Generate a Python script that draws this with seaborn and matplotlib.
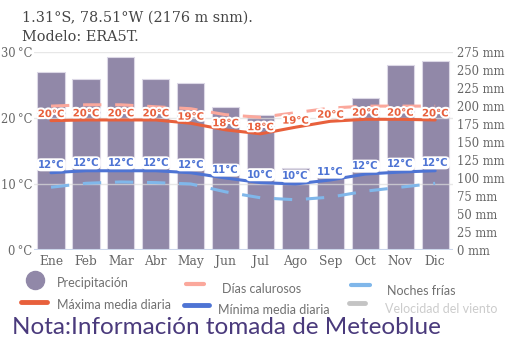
import numpy as np
import pandas as pd
import matplotlib
matplotlib.use("Agg")
import matplotlib.pyplot as plt
import matplotlib.patheffects as pe
from matplotlib.lines import Line2D
import seaborn as sns

months = ["Ene", "Feb", "Mar", "Abr", "May", "Jun", "Jul", "Ago", "Sep", "Oct", "Nov", "Dic"]
precip_mm = [247, 237, 268, 237, 232, 199, 187, 114, 107, 211, 257, 262]
max_temp = [19.6, 19.7, 19.7, 19.7, 19.2, 18.2, 17.6, 18.6, 19.5, 19.8, 19.8, 19.7]
hot_days = [21.8, 22.0, 22.0, 21.7, 21.4, 20.5, 20.1, 20.8, 21.5, 21.8, 21.8, 21.8]
min_temp = [11.7, 12.0, 12.0, 12.0, 11.7, 10.9, 10.2, 10.0, 10.6, 11.5, 11.8, 12.0]
cold_nights = [9.5, 10.1, 10.3, 10.2, 10.0, 8.8, 7.9, 7.6, 8.0, 8.9, 9.5, 10.1]
temp_ticks = [0, 10, 20, 30]
mm_ticks = [0, 25, 50, 75, 100, 125, 150, 175, 200, 225, 250, 275]

C_BAR = "#9188a8"
C_MAX = "#e8603c"
C_HOT = "#fba89c"
C_MIN = "#4e74d4"
C_COLD = "#80b7ea"
C_WIND = "#c4c4c4"
SERIF = "DejaVu Serif"

sns.set_theme(style="white")
plt.rcParams["font.family"] = ["DejaVu Sans"]

fig = plt.figure(figsize=(5.08, 3.40), dpi=100)
ax = fig.add_axes([0.066, 0.265, 0.825, 0.582])
ax2 = ax.twinx()

df = pd.DataFrame({"mes": months, "precip": precip_mm, "x": np.arange(12),
                   "tmax": max_temp, "hot": hot_days, "tmin": min_temp, "cold": cold_nights})

# precipitation bars on the mm axis
sns.barplot(data=df, x="mes", y="precip", order=months, color=C_BAR, width=0.78,
            saturation=1, edgecolor="#dcd8e6", linewidth=0.8, ax=ax2)
ax2.set_ylim(0, 275)
ax2.set_yticks(mm_ticks)
ax2.set_yticklabels([f"{v} mm" for v in mm_ticks], fontfamily=SERIF, fontsize=8.4, color="#666666")
ax2.set_ylabel("")
ax2.set_xlabel("")
ax2.tick_params(axis="y", length=0, pad=3)
ax2.grid(False)

# temperature axis drawn above the bars
ax.set_zorder(ax2.get_zorder() + 1)
ax.patch.set_visible(False)

sns.lineplot(data=df, x="x", y="hot", color=C_HOT, lw=2.2, ax=ax)
ax.lines[-1].set_dashes([6, 4.5])
sns.lineplot(data=df, x="x", y="cold", color=C_COLD, lw=2.2, ax=ax)
ax.lines[-1].set_dashes([6, 4.5])
sns.lineplot(data=df, x="x", y="tmax", color=C_MAX, lw=2.2, ax=ax)
sns.lineplot(data=df, x="x", y="tmin", color=C_MIN, lw=2.2, ax=ax)

stroke = [pe.withStroke(linewidth=3, foreground="white")]
for i in range(12):
    ax.text(i, max_temp[i] + 1.0, f"{round(max_temp[i])}°C", ha="center", va="center",
            fontsize=7.3, fontweight="bold", color=C_MAX, path_effects=stroke, zorder=5)
    ax.text(i, min_temp[i] + 1.2, f"{round(min_temp[i])}°C", ha="center", va="center",
            fontsize=7.3, fontweight="bold", color=C_MIN, zorder=5,
            bbox=dict(boxstyle="round,pad=0.15,rounding_size=0.45", fc="white", ec="none"))

ax.set_xlim(-0.5, 11.5)
ax.set_ylim(0, 30)
ax.set_yticks(temp_ticks)
ax.set_yticklabels([f"{v}\u2009°C" for v in temp_ticks], fontfamily=SERIF, fontsize=8.3, color="#666666")
ax.set_xticks(range(12))
ax.set_xticklabels(months, fontfamily=SERIF, fontsize=8.8, color="#666666")
ax.set_xlabel("")
ax.set_ylabel("")
ax.tick_params(axis="y", length=0, pad=1)
ax.tick_params(axis="x", length=0, pad=4)
ax.grid(axis="y", color="#dedede", alpha=0.7, lw=1)
ax.grid(axis="x", visible=False)
for a in (ax, ax2):
    for s in ("top", "left", "right", "bottom"):
        a.spines[s].set_visible(False)
ax.axhline(0, color="#ccd6eb", lw=1.5, zorder=4)

fig.text(0.043, 0.935, "1.31°S, 78.51°W (2176 m snm).", fontfamily=SERIF, fontsize=10.4, color="#444444")
fig.text(0.043, 0.878, "Modelo: ERA5T.", fontfamily=SERIF, fontsize=10.4, color="#444444")

# legend drawn in figure coordinates
LF = ["Lato", "DejaVu Sans"]
def fx(px):
    return px / 508
def fy(py):
    return 1 - py / 340

fig.add_artist(Line2D([fx(35)], [fy(280)], marker="o", ms=13, color=C_BAR, lw=0))
fig.text(fx(57), fy(283), "Precipitación", fontfamily=LF, fontsize=9, color="#707070", va="center")
fig.add_artist(Line2D([fx(186), fx(204)], [fy(284), fy(284)], color=C_HOT, lw=3))
fig.text(fx(222), fy(289), "Días calurosos", fontfamily=LF, fontsize=9, color="#707070", va="center")
fig.add_artist(Line2D([fx(351), fx(370)], [fy(285), fy(285)], color=C_COLD, lw=3))
fig.text(fx(387), fy(291), "Noches frías", fontfamily=LF, fontsize=9, color="#707070", va="center")
fig.add_artist(Line2D([fx(21), fx(47)], [fy(302), fy(302)], color=C_MAX, lw=3.5, solid_capstyle="round"))
fig.text(fx(57), fy(305), "Máxima media diaria", fontfamily=LF, fontsize=9, color="#707070", va="center")
fig.add_artist(Line2D([fx(184), fx(209)], [fy(305), fy(305)], color=C_MIN, lw=3.5, solid_capstyle="round"))
fig.text(fx(218), fy(310), "Mínima media diaria", fontfamily=LF, fontsize=9, color="#707070", va="center")
fig.add_artist(Line2D([fx(349), fx(365)], [fy(303), fy(303)], color=C_WIND, lw=3.5, solid_capstyle="round"))
fig.text(fx(385), fy(309), "Velocidad del viento", fontfamily=LF, fontsize=9, color="#cccccc", va="center")

fig.text(fx(12), fy(328), "Nota:Información tomada de Meteoblue", fontfamily=LF, fontsize=17.5,
         color="#4a3a7c", va="center")

fig.savefig("out.png", dpi=100)
